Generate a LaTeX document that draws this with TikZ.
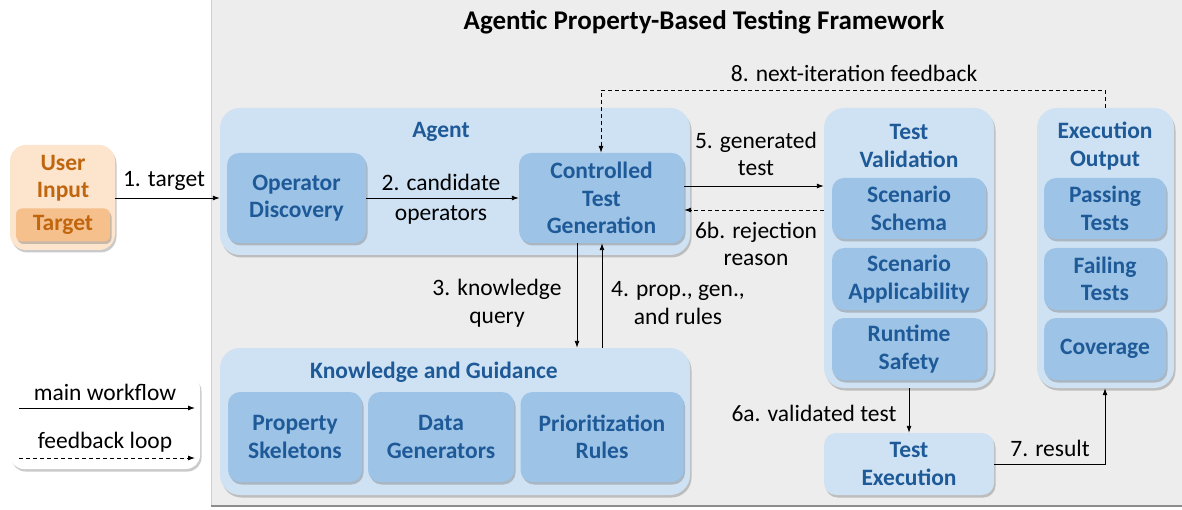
\documentclass[tikz,border=0pt]{standalone}
\usepackage{fontspec}
\setmainfont{Carlito}
\usetikzlibrary{arrows.meta,shadows}
\definecolor{panel}{HTML}{EDEDED}
\definecolor{panelline}{HTML}{CFCFCF}
\definecolor{lightblue}{HTML}{CFE2F3}
\definecolor{midblue}{HTML}{9DC3E6}
\definecolor{darkblue}{HTML}{1F5A98}
\definecolor{lightorange}{HTML}{FCE4CD}
\definecolor{midorange}{HTML}{F6C08D}
\definecolor{darkorange}{HTML}{C0660F}
\tikzset{
  x=1pt, y=-1pt,
  shd/.style={drop shadow={opacity=0.35, shadow xshift=1.5pt, shadow yshift=-2.5pt, fill=black!60}},
  container/.style={shd, fill=lightblue, draw=none, rounded corners=20pt, inner sep=0pt},
  subbox/.style={shd, fill=midblue, draw=none, rounded corners=12pt, inner sep=0pt, align=center,
    text=darkblue, font=\fontsize{23.5}{27.5}\selectfont\bfseries},
  ttl/.style={text=darkblue, font=\fontsize{23.5}{27.5}\selectfont\bfseries, align=center},
  lbl/.style={font=\fontsize{23.5}{27.5}\selectfont, align=center, text=black},
  flow/.style={draw=black, line width=0.9pt, -{Latex[length=7pt,width=5pt]}},
  fb/.style={draw=black, line width=0.9pt, dash pattern=on 4pt off 3pt, -{Latex[length=7pt,width=5pt]}},
}
\begin{document}
\begin{tikzpicture}
\useasboundingbox (0,0) rectangle (1182,510);
% framework panel
\fill[panel] (211,0) rectangle (1182,505);
\draw[panelline, line width=1pt] (211,0) -- (211,505);
\draw[black!45, line width=2pt] (211,506) -- (1182,506);
\node[font=\fontsize{27}{32}\selectfont\bfseries] (title) at (704,22) {Agentic Property-Based Testing Framework};

% user input
\node[shd, fill=lightorange, rounded corners=16pt, minimum width=105pt, minimum height=105pt, inner sep=0pt] (user) at (62.5,197.5) {};
\node[text=darkorange, font=\fontsize{23.5}{27.5}\selectfont\bfseries, align=center] (usert) at (63,178) {User\\Input};
\node[shd, fill=midorange, rounded corners=6pt, minimum width=94pt, minimum height=33pt, inner sep=0pt,
  text=darkorange, font=\fontsize{23.5}{27.5}\selectfont\bfseries] (target) at (63,225) {Target};

% agent
\node[container, minimum width=470pt, minimum height=147pt] (agent) at (455,181.5) {};
\node[ttl] (agentt) at (441,132) {Agent};
\node[subbox, minimum width=139pt, minimum height=90pt] (opd) at (296.5,198) {Operator\\Discovery};
\node[subbox, minimum width=165pt, minimum height=90pt] (ctg) at (601.5,198) {Controlled\\Test\\Generation};

% knowledge
\node[container, minimum width=470pt, minimum height=147pt] (kg) at (455,421.5) {};
\node[ttl] (kgt) at (434,372) {Knowledge and Guidance};
\node[subbox, minimum width=134pt, minimum height=90pt] (ps) at (295,437) {Property\\Skeletons};
\node[subbox, minimum width=146pt, minimum height=90pt] (dg) at (441,437) {Data\\Generators};
\node[subbox, minimum width=163pt, minimum height=90pt] (pr) at (602,437) {Prioritization\\Rules};

% test validation
\node[container, minimum width=170pt, minimum height=280pt] (tv) at (909,248) {};
\node[ttl] (tvt) at (909,146) {Test\\Validation};
\node[subbox, minimum width=154pt, minimum height=61pt] (ss) at (909,208.5) {Scenario\\Schema};
\node[subbox, minimum width=154pt, minimum height=62pt] (sa) at (909,279) {Scenario\\Applicability};
\node[subbox, minimum width=154pt, minimum height=62pt] (rs) at (909,349) {Runtime\\Safety};

% execution output
\node[container, minimum width=137pt, minimum height=280pt] (eo) at (1105.5,248) {};
\node[ttl] (eot) at (1105,146) {Execution\\Output};
\node[subbox, minimum width=122pt, minimum height=61pt] (pt) at (1105,208.5) {Passing\\Tests};
\node[subbox, minimum width=122pt, minimum height=62pt] (ft) at (1105,279) {Failing\\Tests};
\node[subbox, minimum width=122pt, minimum height=62pt] (cov) at (1105,349) {Coverage};

% test execution
\node[shd, fill=lightblue, rounded corners=12pt, minimum width=170pt, minimum height=62pt, inner sep=0pt,
  align=center, text=darkblue, font=\fontsize{23.5}{27.5}\selectfont\bfseries] (te) at (909,464) {Test\\Execution};

% legend
\node[shd, fill=white, rounded corners=14pt, minimum width=190pt, minimum height=94pt, inner sep=0pt] (legend) at (105,422) {};
\node[lbl] (lmain) at (105,392) {main workflow};
\node[lbl] (lfb) at (105,442) {feedback loop};
\coordinate (l1a) at (19,408); \coordinate (l1b) at (195,408);
\coordinate (l2a) at (19,458); \coordinate (l2b) at (195,458);
\draw[flow] (l1a) -- (l1b);
\draw[fb] (l2a) -- (l2b);

% connectors
\draw[flow] (user.east |- 0,198) -- (agent.west |- 0,198);
\node[lbl] (l1) at (164,181) {1. target};

\draw[flow] (opd.east |- 0,198) -- (ctg.west |- 0,198);
\node[lbl] (l2) at (441,199) {2. candidate\\[2pt]operators};

\draw[flow] (ctg.east |- 0,186) -- (tv.west |- 0,186);
\node[lbl] (l5) at (756,154) {5. generated\\test};

\draw[fb] (tv.west |- 0,210) -- (ctg.east |- 0,210);
\node[lbl] (l6b) at (756,244) {6b. rejection\\reason};

\coordinate (f1) at (1105,90);
\coordinate (f2) at (601,90);
\draw[fb] (eo.north -| 1105,0) -- (f1) -- (f2) -- (ctg.north -| f2);
\node[lbl] (l8) at (854,73) {8. next-iteration feedback};

\draw[flow] (ctg.south -| 577,0) -- (kg.north -| 577,0);
\node[lbl] (l3) at (497,303) {3. knowledge\\query};
\draw[flow] (kg.north -| 602,0) -- (ctg.south -| 602,0);
\node[lbl] (l4) at (678,303) {4. prop., gen.,\\and rules};

\draw[flow] (tv.south) -- (te.north);
\node[lbl] (l6a) at (814,413) {6a. validated test};

\coordinate (r1) at (1105,464);
\draw[flow] (te.east) -- (r1) -- (eo.south -| r1);
\node[lbl] (l7) at (1050,448) {7. result};
\end{tikzpicture}
\end{document}
